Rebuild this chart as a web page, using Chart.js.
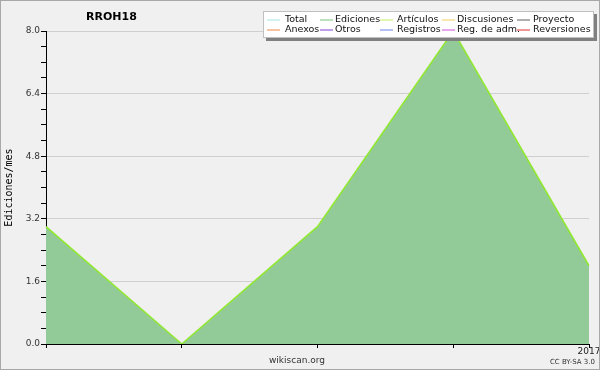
<!DOCTYPE html>
<html>
<head>
<meta charset="utf-8">
<script src="https://cdn.jsdelivr.net/npm/chart.js@4.4.1/dist/chart.umd.min.js"></script>
<style>
  html, body { margin: 0; padding: 0; background: #f0f0f0; }
  #wrap { position: relative; width: 600px; height: 370px; }
</style>
</head>
<body>
<div id="wrap"><canvas id="chart" width="600" height="370"></canvas></div>
<script>
// donnees du graphique
const mois = ['', '', '', '', '2017'];
const ediciones = [3, 0, 3, 8, 2];
const articulos = [3, 0, 3, 8, 2];
const yTicks = [0, 1.6, 3.2, 4.8, 6.4, 8.0];
const legendeNoms = ['Total', 'Ediciones', 'Artículos', 'Discusiones', 'Proyecto',
                     'Anexos', 'Otros', 'Registros', 'Reg. de adm.', 'Reversiones'];
const legendeCouleurs = ['#a8e4e4', '#7cc47c', '#c4f060', '#f0d060', '#606060',
                         '#f08848', '#8040d8', '#7080f0', '#d050e0', '#e03030'];

function estMajeur(v) {
    return yTicks.some(t => Math.abs(t - v) < 1e-6);
}

// dessine le cadre, le titre, les textes du bas et la legende
const decor = {
    id: 'decor',
    beforeDraw(chart) {
        const ctx = chart.ctx;
        ctx.save();
        ctx.fillStyle = '#f0f0f0';
        ctx.fillRect(0, 0, 600, 370);
        ctx.restore();
    },
    afterDraw(chart) {
        const ctx = chart.ctx;
        ctx.save();
        // bordure
        ctx.strokeStyle = '#a8a8a8';
        ctx.lineWidth = 1;
        ctx.strokeRect(0.5, 0.5, 599, 369);

        // titre
        ctx.fillStyle = '#000';
        ctx.font = 'bold 11px "DejaVu Sans"';
        ctx.textBaseline = 'middle';
        ctx.textAlign = 'left';
        ctx.fillText('RROH18', 86, 17);

        // bas
        ctx.fillStyle = '#333';
        ctx.font = '9px "DejaVu Sans"';
        ctx.textAlign = 'center';
        ctx.fillText('wikiscan.org', 297, 361);
        ctx.font = '7px "DejaVu Sans"';
        ctx.textAlign = 'right';
        ctx.fillText('CC BY-SA 3.0', 595, 362);

        // legende
        ctx.fillStyle = '#808080';
        ctx.fillRect(266, 14, 331, 27);
        ctx.fillStyle = '#ffffff';
        ctx.fillRect(263, 11, 331, 27);
        ctx.strokeStyle = '#c0c0c0';
        ctx.strokeRect(263.5, 11.5, 330, 26);

        const lignes = [267, 320, 380, 442, 517];
        const textes = [285, 335, 397, 457, 533];
        ctx.font = '9.5px "DejaVu Sans"';
        ctx.textAlign = 'left';
        ctx.textBaseline = 'middle';
        legendeNoms.forEach((nom, i) => {
            const col = i % 5;
            const y = i < 5 ? 19.5 : 29.5;
            ctx.strokeStyle = legendeCouleurs[i];
            ctx.lineWidth = 1;
            ctx.beginPath();
            ctx.moveTo(lignes[col], y + 0.5);
            ctx.lineTo(lignes[col] + 13, y + 0.5);
            ctx.stroke();
            ctx.fillStyle = '#111';
            ctx.fillText(nom, textes[col], y);
        });
        ctx.restore();
    }
};

const ctx = document.getElementById('chart').getContext('2d');
const myChart = new Chart(ctx, {
    type: 'line',
    data: {
        labels: mois,
        datasets: [
            {
                label: 'Artículos',
                data: articulos,
                borderColor: '#90e830',
                borderWidth: 1.5,
                pointRadius: 0,
                fill: false,
                tension: 0
            },
            {
                label: 'Ediciones',
                data: ediciones,
                borderWidth: 0,
                borderColor: 'rgba(0,0,0,0)',
                backgroundColor: '#93cb98',
                pointRadius: 0,
                fill: 'origin',
                tension: 0
            }
        ]
    },
    options: {
        responsive: false,
        animation: false,
        events: [],
        layout: { padding: { top: 31, right: 11, left: 0, bottom: 0 } },
        plugins: {
            legend: { display: false },
            title: { display: false },
            tooltip: { enabled: false }
        },
        scales: {
            x: {
                type: 'category',
                offset: false,
                afterFit: function(scale) { scale.height = 26; },
                grid: {
                    drawOnChartArea: false,
                    tickLength: 4,
                    tickColor: '#000'
                },
                border: { color: '#000', width: 1 },
                ticks: {
                    autoSkip: false,
                    maxRotation: 0,
                    padding: -2,
                    color: '#222',
                    font: { family: 'DejaVu Sans', size: 9 }
                }
            },
            y: {
                min: 0,
                max: 8,
                afterFit: function(scale) { scale.width = 46; },
                afterBuildTicks: function(scale) {
                    const t = [];
                    for (let i = 0; i <= 20; i++) t.push({ value: i * 0.4 });
                    scale.ticks = t;
                },
                grid: {
                    color: c => (c.tick && estMajeur(c.tick.value)) ? '#cfcfcf' : 'rgba(0,0,0,0)',
                    tickColor: '#000',
                    tickLength: 5,
                    drawTicks: true
                },
                border: { color: '#000', width: 1 },
                ticks: {
                    autoSkip: false,
                    padding: 1,
                    color: '#333',
                    font: { family: 'DejaVu Sans', size: 9 },
                    callback: function(v) {
                        return estMajeur(v) ? v.toFixed(1) : '';
                    }
                },
                title: {
                    display: true,
                    text: 'Ediciones/mes',
                    color: '#000',
                    padding: { top: 3, bottom: 0 },
                    font: { family: 'DejaVu Sans Mono', size: 10 }
                }
            }
        }
    },
    plugins: [decor]
});
</script>
</body>
</html>
